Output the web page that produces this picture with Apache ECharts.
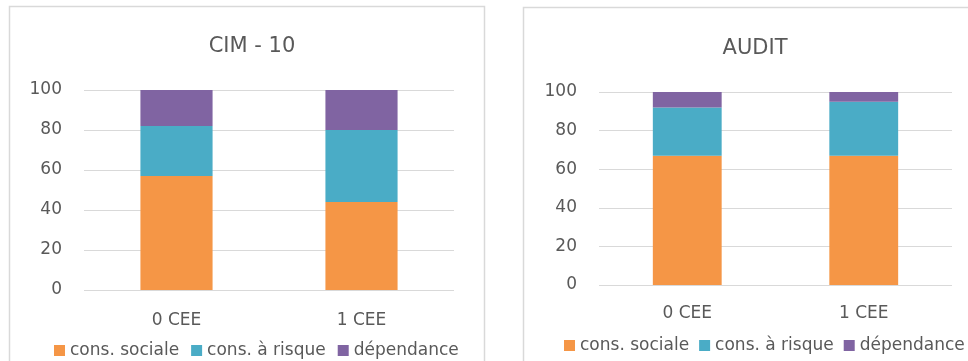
<!DOCTYPE html>
<html>
<head>
<meta charset="utf-8">
<script src="https://cdn.jsdelivr.net/npm/echarts@6/dist/echarts.min.js"></script>
<style>
  html, body { margin: 0; padding: 0; background: #fff; }
  #chart { width: 968px; height: 361px; }
</style>
</head>
<body>
<div id="chart"></div>
<script>
const categories = ['0 CEE', '1 CEE'];
const seriesNames = ['cons. sociale', 'cons. à risque', 'dépendance'];
const colors = ['#F59646', '#4AACC6', '#8064A2'];

// CIM - 10
const cimSociale = [57, 44];
const cimRisque = [25, 36];
const cimDependance = [18, 20];

// AUDIT
const auditSociale = [67, 67];
const auditRisque = [25, 28];
const auditDependance = [8, 5];

const yTicks = [0, 20, 40, 60, 80, 100];

const font = '"DejaVu Sans", "Noto Sans", sans-serif';
const textColor = '#595959';

function xAxisFor(gridIndex, margin) {
  return {
    type: 'category',
    gridIndex: gridIndex,
    data: categories,
    axisLine: { show: false },
    axisTick: { show: false },
    axisLabel: { color: textColor, fontSize: 17, fontFamily: font, margin: margin }
  };
}

function yAxisFor(gridIndex) {
  return {
    type: 'value',
    gridIndex: gridIndex,
    min: yTicks[0],
    max: yTicks[yTicks.length - 1],
    interval: 20,
    axisLine: { show: false },
    axisTick: { show: false },
    axisLabel: { color: textColor, fontSize: 17, fontFamily: font, margin: 22 },
    splitLine: { lineStyle: { color: '#D9D9D9', width: 1 } }
  };
}

function stackFor(idx, stackName, lists) {
  return lists.map((vals, i) => ({
    name: seriesNames[i],
    type: 'bar',
    stack: stackName,
    xAxisIndex: idx,
    yAxisIndex: idx,
    barWidth: '39%',
    data: vals,
    itemStyle: { color: colors[i] }
  }));
}

function legendAt(left, top, gap) {
  return {
    left: left,
    top: top,
    width: 430,
    data: seriesNames,
    itemWidth: 11,
    itemHeight: 11,
    itemGap: gap,
    icon: 'rect',
    textStyle: { color: textColor, fontSize: 17, fontFamily: font }
  };
}

const chart = echarts.init(document.getElementById('chart'));
chart.setOption({
  animation: false,
  color: colors,
  graphic: [
    { type: 'rect', shape: { x: 9.5, y: 6.5, width: 475, height: 380 },
      style: { fill: null, stroke: '#D9D9D9', lineWidth: 1.5 } },
    { type: 'rect', shape: { x: 523.5, y: 7.5, width: 470, height: 380 },
      style: { fill: null, stroke: '#D9D9D9', lineWidth: 1.5 } }
  ],
  title: [
    { text: 'CIM - 10', left: 247, top: 31, textAlign: 'center',
      textStyle: { color: textColor, fontSize: 21, fontWeight: 'normal', fontFamily: font } },
    { text: 'AUDIT', left: 750, top: 33, textAlign: 'center',
      textStyle: { color: textColor, fontSize: 21, fontWeight: 'normal', fontFamily: font } }
  ],
  legend: [
    legendAt(49, 337, 12),
    legendAt(559, 332, 10)
  ],
  grid: [
    { left: 84, top: 90, width: 370, height: 200 },
    { left: 599, top: 92, width: 353, height: 193 }
  ],
  xAxis: [xAxisFor(0, 22), xAxisFor(1, 20)],
  yAxis: [yAxisFor(0), yAxisFor(1)],
  series: [].concat(
    stackFor(0, 'cim', [cimSociale, cimRisque, cimDependance]),
    stackFor(1, 'audit', [auditSociale, auditRisque, auditDependance])
  )
});
</script>
</body>
</html>
